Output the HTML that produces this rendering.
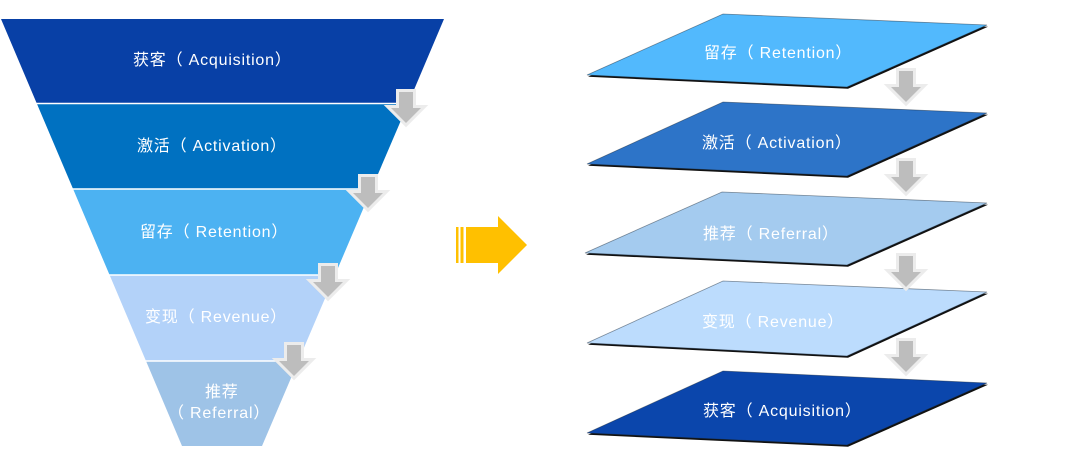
<!DOCTYPE html>
<html>
<head>
<meta charset="utf-8">
<style>
  html,body{margin:0;padding:0;background:#fff;}
  body{width:1080px;height:459px;overflow:hidden;}
  svg{display:block;}
  text{font-family:"Liberation Sans","Noto Sans CJK SC",sans-serif;font-size:16px;fill:#fff;letter-spacing:0.8px;}
</style>
</head>
<body>
<svg width="1080" height="459" viewBox="0 0 1080 459" xmlns="http://www.w3.org/2000/svg">
  <defs>
    <g id="ga">
      <polygon points="-7,0 7,0 7,16 15,16 0,31 -15,16 -7,16" fill="#ececec" stroke="#ececec" stroke-width="6" stroke-linejoin="miter"/>
      <polygon points="-7,0 7,0 7,16 15,16 0,31 -15,16 -7,16" fill="#bdbdbd"/>
    </g>
  </defs>

  <!-- Funnel bands -->
  <polygon points="1,19 444,19 408.2,103.5 36.8,103.5" fill="#0840a6"/>
  <polygon points="36.8,103.5 408.2,103.5 371.6,189 73.1,189" fill="#0071c1"/>
  <polygon points="73.1,189 371.6,189 335,275 109.6,275" fill="#4cb2f2"/>
  <polygon points="109.6,275 335,275 298.3,361 146,361" fill="#b3d2f9"/>
  <polygon points="146,361 298.3,361 262,446 182,446" fill="#9ec3e7"/>
  <!-- white separators -->
  <line x1="30" y1="103.5" x2="420" y2="103.5" stroke="#fff" stroke-width="1.6"/>
  <line x1="60" y1="189" x2="380" y2="189" stroke="#fff" stroke-width="1.6"/>
  <line x1="100" y1="275" x2="345" y2="275" stroke="#fff" stroke-width="1.6"/>
  <line x1="140" y1="361" x2="305" y2="361" stroke="#fff" stroke-width="1.6"/>

  <!-- Funnel labels -->
  <text x="133" y="65">获客（ Acquisition）</text>
  <text x="137" y="151">激活（ Activation）</text>
  <text x="140" y="237">留存（ Retention）</text>
  <text x="145" y="322" fill="#eef4fc">变现（ Revenue）</text>
  <text x="205" y="397">推荐</text>
  <text x="168" y="418">（ Referral）</text>

  <!-- Funnel arrows -->
  <use href="#ga" x="406" y="92"/>
  <use href="#ga" x="368" y="177"/>
  <use href="#ga" x="328" y="266"/>
  <use href="#ga" x="294" y="345"/>

  <!-- Yellow arrow -->
  <rect x="456" y="227" width="2.5" height="36" fill="#ffc000"/>
  <rect x="460.5" y="227" width="3" height="36" fill="#ffc000"/>
  <polygon points="466,227 498,227 498,216 527,245 498,274 498,263 466,263" fill="#ffc000"/>

  <!-- Right stack -->
  <g>
    <polygon transform="translate(1,1.8)" points="723,14 987,25 847,87 587,75" fill="#111"/>
    <polygon points="723,14 987,25 847,87 587,75" fill="#52b9fd" stroke="#1a2a3a" stroke-opacity="0.5" stroke-width="0.8"/>
    <text x="704" y="58">留存（ Retention）</text>
  </g>
  <g>
    <polygon transform="translate(1,1.8)" points="723,102 987,113 847,176 587,164" fill="#111"/>
    <polygon points="723,102 987,113 847,176 587,164" fill="#2d74c8" stroke="#1a2a3a" stroke-opacity="0.5" stroke-width="0.8"/>
    <text x="702" y="148">激活（ Activation）</text>
  </g>
  <g>
    <polygon transform="translate(1,1.8)" points="722,192 987,203 847,265 585,253" fill="#111"/>
    <polygon points="722,192 987,203 847,265 585,253" fill="#a4cbef" stroke="#1a2a3a" stroke-opacity="0.5" stroke-width="0.8"/>
    <text x="703" y="239">推荐（ Referral）</text>
  </g>
  <g>
    <polygon transform="translate(1,1.8)" points="723,281 987,292 847,356 587,343" fill="#111"/>
    <polygon points="723,281 987,292 847,356 587,343" fill="#bcdcfd" stroke="#1a2a3a" stroke-opacity="0.5" stroke-width="0.8"/>
    <text x="702" y="327" fill="#eef6ff">变现（ Revenue）</text>
  </g>
  <g>
    <polygon transform="translate(1,1.8)" points="723,371 987,383 847,445 587,433" fill="#111"/>
    <polygon points="723,371 987,383 847,445 587,433" fill="#0b46ac" stroke="#1a2a3a" stroke-opacity="0.5" stroke-width="0.8"/>
    <text x="703" y="416">获客（ Acquisition）</text>
  </g>

  <!-- Right arrows -->
  <use href="#ga" x="906" y="71"/>
  <use href="#ga" x="906" y="161"/>
  <use href="#ga" x="906" y="256"/>
  <use href="#ga" x="906" y="341"/>
</svg>
</body>
</html>
